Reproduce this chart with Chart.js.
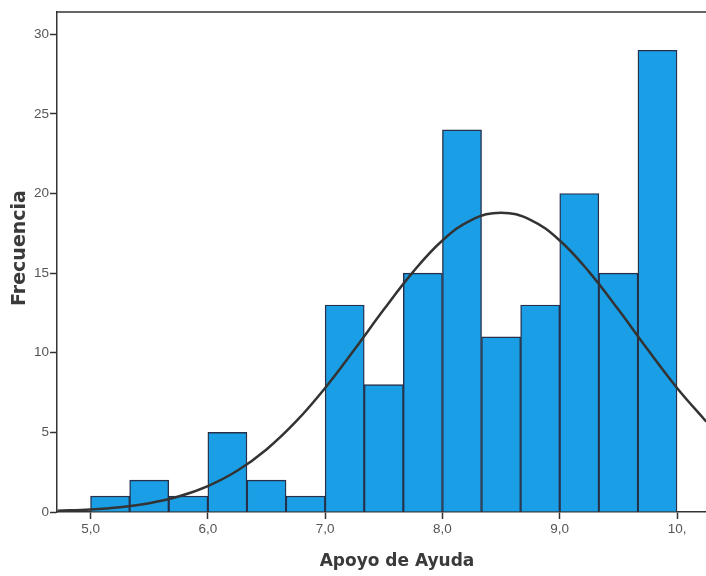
<!DOCTYPE html>
<html>
<head>
<meta charset="utf-8">
<title>Apoyo de Ayuda</title>
<script src="https://cdn.jsdelivr.net/npm/chart.js@4"></script>
<style>
  html, body { margin: 0; padding: 0; background: #fff; }
  #wrap { width: 706px; height: 576px; position: relative; }
</style>
</head>
<body>
<div id="wrap"><canvas id="chartHist"></canvas></div>
<script>
// ==============================
// Data
// ==============================
const binCenters = [5.1667, 5.5, 5.8333, 6.1667, 6.5, 6.8333, 7.1667, 7.5, 7.8333, 8.1667, 8.5, 8.8333, 9.1667, 9.5, 9.8333];
const counts     = [1, 2, 1, 5, 2, 1, 13, 8, 15, 24, 11, 13, 20, 15, 29];

// normal curve drawn over the bars
const curveX = [4.72, 5.0, 5.25, 5.5, 5.75, 6.0, 6.25, 6.5, 6.75, 7.0, 7.25, 7.5, 7.75, 8.0, 8.25, 8.5, 8.75, 9.0, 9.25, 9.5, 9.75, 10.0, 10.25];
const curveY = [0.08, 0.16, 0.30, 0.55, 0.97, 1.63, 2.59, 3.93, 5.67, 7.79, 10.2, 12.71, 15.08, 17.05, 18.35, 18.8, 18.35, 17.05, 15.08, 12.71, 10.2, 7.79, 5.67];

const xTickValues = [5, 6, 7, 8, 9, 10];
const xTickLabels = ['5,0', '6,0', '7,0', '8,0', '9,0', '10,'];
const yTickValues = [0, 5, 10, 15, 20, 25, 30];

const xTitle = 'Apoyo de Ayuda';
const yTitle = 'Frecuencia';

// ==============================
// Small plugins: top frame line + axis titles
// ==============================
const frameAndTitles = {
    id: 'frameAndTitles',
    afterDraw(chart) {
        const { ctx, chartArea } = chart;
        ctx.save();
        ctx.strokeStyle = '#333';
        ctx.lineWidth = 1.5;
        ctx.beginPath();
        ctx.moveTo(chartArea.left, chartArea.top);
        ctx.lineTo(chartArea.right, chartArea.top);
        ctx.stroke();

        ctx.fillStyle = '#3a3a3a';
        ctx.textAlign = 'center';
        ctx.textBaseline = 'middle';
        ctx.font = 'bold 17px "DejaVu Sans"';
        ctx.fillText(xTitle, 397, 562);

        ctx.translate(20, 248);
        ctx.rotate(-Math.PI / 2);
        ctx.font = 'bold 19px "DejaVu Sans"';
        ctx.fillText(yTitle, 0, 0);
        ctx.restore();
    }
};

// ==============================
// Chart
// ==============================
function renderChart() {
    const ctx = document.getElementById('chartHist').getContext('2d');
    new Chart(ctx, {
        data: {
            datasets: [
                {
                    type: 'line',
                    order: 0,
                    data: curveX.map((x, i) => ({ x: x, y: curveY[i] })),
                    borderColor: '#333333',
                    borderWidth: 2.5,
                    pointRadius: 0,
                    tension: 0.4,
                    fill: false
                },
                {
                    type: 'bar',
                    order: 1,
                    data: binCenters.map((x, i) => ({ x: x, y: counts[i] })),
                    backgroundColor: '#1a9fe6',
                    borderColor: '#27304a',
                    borderWidth: 1.4,
                    barPercentage: 1,
                    categoryPercentage: 1
                }
            ]
        },
        options: {
            responsive: true,
            maintainAspectRatio: false,
            animation: false,
            layout: { padding: { top: 12, right: 0, left: 0, bottom: 0 } },
            plugins: { legend: { display: false }, tooltip: { enabled: false } },
            scales: {
                x: {
                    type: 'linear',
                    offset: false,
                    min: 4.714,
                    max: 10.247,
                    afterBuildTicks: s => { s.ticks = xTickValues.map(v => ({ value: v })); },
                    afterFit: s => { s.height = 64; },
                    grid: { offset: false, drawOnChartArea: false, drawTicks: true, tickLength: 7, tickColor: '#333', tickWidth: 1.5 },
                    border: { display: true, color: '#333', width: 1.5 },
                    ticks: {
                        padding: 2,
                        maxRotation: 0,
                        color: '#555',
                        font: { family: 'Liberation Sans', size: 13.5 },
                        callback: (v, i) => xTickLabels[i]
                    }
                },
                y: {
                    min: 0,
                    max: 31.4,
                    afterBuildTicks: s => { s.ticks = yTickValues.map(v => ({ value: v })); },
                    afterFit: s => { s.width = 57; },
                    grid: { drawOnChartArea: false, drawTicks: true, tickLength: 7, tickColor: '#333', tickWidth: 1.5 },
                    border: { display: true, color: '#333', width: 1.5 },
                    ticks: {
                        padding: 1,
                        color: '#555',
                        font: { family: 'Liberation Sans', size: 13.5 },
                        callback: v => String(v)
                    }
                }
            }
        },
        plugins: [frameAndTitles]
    });
}

renderChart();
</script>
</body>
</html>
